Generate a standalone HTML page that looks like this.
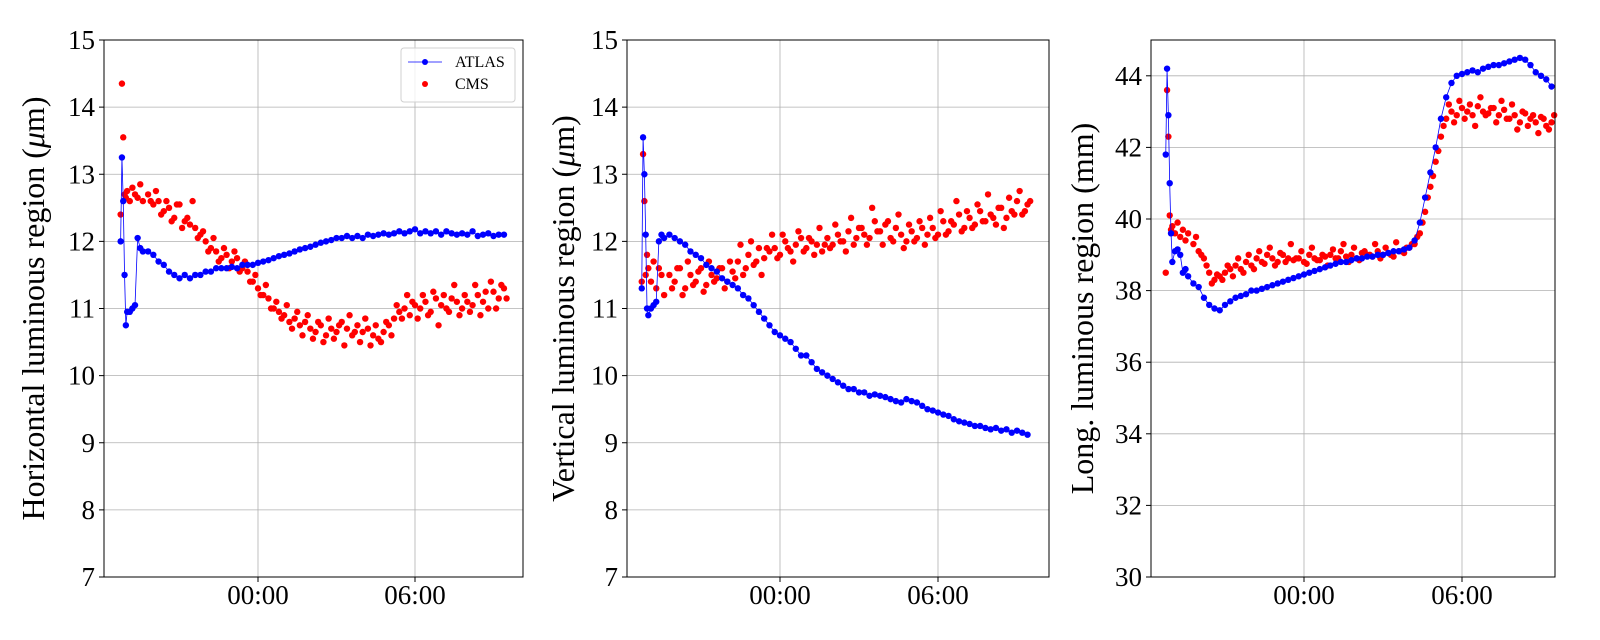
<!DOCTYPE html>
<html><head><meta charset="utf-8"><style>
body{margin:0;background:#fff}
svg{display:block;font-family:"Liberation Serif","DejaVu Serif",serif}
</style></head><body>
<svg id="chart" width="1600" height="640" viewBox="0 0 1600 640" xmlns="http://www.w3.org/2000/svg"></svg>
<script>
const times=[-5.25,-5.2,-5.15,-5.1,-5.05,-5.0,-4.9,-4.8,-4.7,-4.6,-4.5,-4.4,
-4.2,-4.0,-3.8,-3.6,-3.4,-3.2,-3.0,-2.8,-2.6,-2.4,
-2.2,-2.0,-1.8,-1.6,-1.4,-1.2,-1.0,-0.8,-0.6,-0.4,
-0.2,0,0.2,0.4,0.6,0.8,1.0,1.2,1.4,1.6,
1.8,2.0,2.2,2.4,2.6,2.8,3.0,3.2,3.4,3.6,
3.8,4.0,4.2,4.4,4.6,4.8,5.0,5.2,5.4,5.6,
5.8,6.0,6.2,6.4,6.6,6.8,7.0,7.2,7.4,7.6,
7.8,8.0,8.2,8.4,8.6,8.8,9.0,9.2,9.4];
const times2=[-4.1,-3.9,-3.7,-3.5,-3.3,-3.1,-2.9,-2.7,-2.5,-2.3,
-2.1,-1.9,-1.7,-1.5,-1.3,-1.1,-0.9,-0.7,-0.5,-0.3,
-0.1,0.1,0.3,0.5,0.7,0.9,1.1,1.3,1.5,1.7,
1.9,2.1,2.3,2.5,2.7,2.9,3.1,3.3,3.5,3.7,
3.9,4.1,4.3,4.5,4.7,4.9,5.1,5.3,5.5,5.7,
5.9,6.1,6.3,6.5,6.7,6.9,7.1,7.3,7.5,7.7,
7.9,8.1,8.3,8.5,8.7,8.9,9.1,9.3,9.5];
const xTickLabels=["00:00","06:00"];
const xTickHours=[0,6];
const hAtlas=[12.0,13.25,12.6,11.5,10.75,10.95,10.95,11.0,11.05,12.05,11.9,11.85,
11.85,11.8,11.7,11.65,11.55,11.5,11.45,11.5,11.45,11.5,
11.5,11.55,11.55,11.6,11.6,11.6,11.62,11.6,11.65,11.65,
11.65,11.68,11.7,11.72,11.75,11.78,11.8,11.82,11.85,11.88,
11.9,11.92,11.95,11.98,12.0,12.02,12.05,12.05,12.08,12.05,
12.08,12.05,12.1,12.08,12.1,12.12,12.1,12.12,12.15,12.12,
12.15,12.18,12.12,12.15,12.12,12.15,12.1,12.15,12.12,12.1,
12.12,12.1,12.15,12.08,12.1,12.12,12.08,12.1,12.1];
const hCms=[12.4,14.35,13.55,12.7,12.65,12.75,12.6,12.8,12.7,12.65,12.85,12.6,
12.7,12.55,12.6,12.45,12.5,12.35,12.55,12.3,12.25,12.2,
12.1,12.0,11.9,11.85,11.75,11.8,11.7,11.75,11.6,11.55,
11.4,11.3,11.2,11.15,11.0,10.95,10.9,10.8,10.85,10.75,
10.8,10.7,10.65,10.75,10.6,10.7,10.65,10.8,10.7,10.6,
10.75,10.65,10.7,10.6,10.55,10.65,10.75,10.85,10.95,11.0,
10.9,11.05,11.0,11.1,10.95,11.15,11.05,11.0,11.15,11.1,
11.0,11.1,11.05,11.2,11.1,11.0,11.25,11.15,11.3];
const hCms2=[12.6,12.75,12.4,12.6,12.3,12.55,12.2,12.35,12.6,12.05,
12.15,11.85,12.05,11.7,11.9,11.6,11.85,11.55,11.7,11.4,
11.5,11.2,11.35,11.0,11.1,10.85,11.05,10.7,10.95,10.6,
10.9,10.55,10.8,10.5,10.85,10.55,10.75,10.45,10.9,10.65,
10.5,10.85,10.45,10.75,10.5,10.8,10.6,11.05,10.85,11.2,
11.1,10.85,11.2,10.9,11.25,10.75,11.2,10.95,11.35,10.9,
11.2,10.95,11.35,10.9,11.25,11.4,11.0,11.35,11.15];
const vAtlas=[11.3,13.55,13.0,12.1,11.0,10.9,11.0,11.05,11.1,12.0,12.1,12.05,
12.1,12.05,12.0,11.95,11.85,11.8,11.75,11.65,11.6,11.55,
11.45,11.4,11.35,11.3,11.2,11.15,11.05,10.95,10.85,10.75,
10.65,10.6,10.55,10.5,10.4,10.3,10.3,10.2,10.1,10.05,
10.0,9.95,9.9,9.85,9.8,9.8,9.75,9.75,9.7,9.72,
9.7,9.68,9.65,9.62,9.6,9.65,9.62,9.6,9.55,9.5,
9.48,9.45,9.42,9.4,9.35,9.32,9.3,9.28,9.25,9.25,
9.22,9.2,9.22,9.18,9.2,9.15,9.18,9.15,9.12];
const vCms=[11.4,13.3,12.6,11.5,11.8,11.6,11.4,11.7,11.3,11.6,11.5,11.2,
11.5,11.4,11.6,11.3,11.5,11.4,11.6,11.35,11.5,11.45,
11.6,11.4,11.55,11.7,11.5,11.8,11.65,11.9,11.75,11.85,
11.9,11.8,12.0,11.85,11.95,12.05,11.9,12.0,11.95,11.85,
12.05,11.95,12.1,12.0,12.15,11.95,12.2,12.1,12.05,12.3,
12.15,12.25,12.05,12.2,12.1,12.0,12.15,12.05,12.2,12.1,
12.2,12.1,12.3,12.15,12.25,12.4,12.2,12.35,12.25,12.45,
12.3,12.4,12.25,12.5,12.35,12.45,12.6,12.4,12.55];
const vCms2=[11.3,11.6,11.2,11.7,11.35,11.55,11.25,11.7,11.4,11.6,
11.3,11.7,11.45,11.95,11.6,12.0,11.7,11.5,11.9,12.1,
11.75,12.1,11.9,11.7,12.15,11.85,12.05,11.8,12.2,11.95,
11.9,12.25,12.0,11.85,12.35,12.05,12.2,11.95,12.5,12.15,
11.95,12.3,12.0,12.4,11.9,12.25,12.0,12.3,11.95,12.35,
12.05,12.45,12.1,12.3,12.6,12.15,12.45,12.2,12.55,12.3,
12.7,12.35,12.5,12.2,12.65,12.4,12.75,12.45,12.6];
const lAtlas=[41.8,44.2,42.9,41.0,39.6,38.8,39.1,39.15,39.0,38.5,38.6,38.4,
38.2,38.1,37.8,37.6,37.5,37.45,37.6,37.7,37.8,37.85,
37.9,38.0,38.0,38.05,38.1,38.15,38.2,38.25,38.3,38.35,
38.4,38.45,38.5,38.55,38.6,38.65,38.7,38.75,38.8,38.8,
38.85,38.9,38.9,38.95,38.95,39.0,39.0,39.05,39.1,39.1,
39.15,39.2,39.4,39.9,40.6,41.3,42.0,42.8,43.4,43.8,
44.0,44.05,44.1,44.15,44.1,44.2,44.25,44.3,44.3,44.35,
44.4,44.45,44.5,44.45,44.3,44.1,44.0,43.9,43.7];
const lCms=[38.5,43.6,42.3,40.1,39.7,39.8,39.6,39.9,39.5,39.7,39.4,39.6,
39.3,39.1,38.9,38.5,38.3,38.4,38.5,38.6,38.7,38.6,
38.8,38.7,38.9,38.8,39.0,38.9,38.8,39.0,38.9,38.85,
38.9,38.8,39.0,38.9,38.85,38.95,39.0,38.9,39.1,38.95,
39.0,38.9,39.05,39.0,38.95,39.1,39.0,39.05,38.95,39.1,
39.05,39.2,39.3,39.6,40.2,40.9,41.6,42.3,42.8,43.0,
42.9,43.1,43.0,42.9,43.15,43.0,42.95,43.1,42.9,43.05,
42.8,42.9,42.7,42.95,42.8,42.7,42.85,42.6,42.7];
const lCms2=[39.5,39.0,38.7,38.2,38.45,38.3,38.7,38.4,38.9,38.5,
39.0,38.6,39.1,38.75,39.2,38.7,39.05,38.8,39.3,38.9,
39.1,38.75,39.2,38.85,39.0,38.7,39.15,38.9,39.3,38.8,
39.2,38.85,39.1,39.0,39.3,38.9,39.2,39.0,39.35,39.1,
39.2,39.3,39.5,39.9,40.6,41.2,41.9,42.6,43.2,42.7,
43.3,42.8,43.2,42.6,43.4,42.9,43.1,42.7,43.3,42.8,
43.2,42.5,43.0,42.6,42.9,42.4,42.8,42.5,42.9];
const yTicksA=[7,8,9,10,11,12,13,14,15];
const yTicksL=[30,32,34,36,38,40,42,44];

const NS="http://www.w3.org/2000/svg";
const svg=document.getElementById('chart');
function mk(tag,attrs,parent){const e=document.createElementNS(NS,tag);for(const k in attrs)e.setAttribute(k,attrs[k]);(parent||svg).appendChild(e);return e;}

const panels=[
 {name:'horizontal',x0:104,x1:523,zero:258,six:415,ymin:7,ymax:15,ticks:yTicksA,title:'Horizontal luminous region (',unit:true,tx:44,a:hAtlas,c:hCms,c2:hCms2,legend:true},
 {name:'vertical',x0:627,x1:1049,zero:780,six:938,ymin:7,ymax:15,ticks:yTicksA,title:'Vertical luminous region (',unit:true,tx:574,a:vAtlas,c:vCms,c2:vCms2},
 {name:'longitudinal',x0:1151,x1:1555,zero:1304,six:1462,ymin:30,ymax:45,ticks:yTicksL,title:'Long. luminous region (mm)',unit:false,tx:1093,a:lAtlas,c:lCms,c2:lCms2}
];
const plotTop=40,plotBot=577;
panels.forEach(p=>{
  const g=mk('g',{});
  
  
  const xs=h=>p.zero+(h)*(p.six-p.zero)/6;
  const ys=v=>plotBot-(v-p.ymin)/(p.ymax-p.ymin)*(plotBot-plotTop);
  p.ticks.forEach(t=>{
    const y=ys(t);
    const l=mk('line',{x1:p.x0,x2:p.x1,y1:y,y2:y,stroke:'#b0b0b0','stroke-width':0.8},g);
    
    
    mk('line',{x1:p.x0-5,x2:p.x0,y1:y,y2:y,stroke:'#000','stroke-width':1},g);
    const tx=mk('text',{x:p.x0-9,y:y+9,'text-anchor':'end','font-size':27},g);
    tx.textContent=t;
    
    
  });
  xTickHours.forEach((h,i)=>{
    const x=xs(h);
    const l=mk('line',{x1:x,x2:x,y1:plotTop,y2:plotBot,stroke:'#b0b0b0','stroke-width':0.8},g);
    
    
    mk('line',{x1:x,x2:x,y1:plotBot,y2:plotBot+5,stroke:'#000','stroke-width':1},g);
    const tx=mk('text',{x:x,y:plotBot+27,'text-anchor':'middle','font-size':27},g);
    tx.textContent=xTickLabels[i];
    
    
  });
  const cg=mk('g',{fill:'#ff0000'},g);
  
  
  p.c.forEach((v,i)=>{
    const c=mk('circle',{cx:xs(times[i]),cy:ys(v),r:3.2},cg);
    
    
  });
  p.c2.forEach((v,i)=>{
    const c=mk('circle',{cx:xs(times2[i]),cy:ys(v),r:3.2},cg);
    
    
  });
  const ag=mk('g',{fill:'#0000ff'},g);
  
  
  const pl=mk('polyline',{points:p.a.map((v,i)=>xs(times[i])+','+ys(v)).join(' '),fill:'none',stroke:'#0000ff','stroke-width':0.8},ag);
  
  
  p.a.forEach((v,i)=>{
    const c=mk('circle',{cx:xs(times[i]),cy:ys(v),r:3.2},ag);
    
    
  });
  const fr=mk('rect',{x:p.x0,y:plotTop,width:p.x1-p.x0,height:plotBot-plotTop,fill:'none',stroke:'#000','stroke-width':1},g);
  
  
  const yt=mk('text',{x:0,y:0,'text-anchor':'middle','font-size':32,transform:`translate(${p.tx},${(plotTop+plotBot)/2}) rotate(-90)`},g);
  
  
  if(p.unit){
    yt.appendChild(document.createTextNode(p.title));
    const ts=mk('tspan',{'font-style':'italic'},yt);ts.textContent='μ';
    yt.appendChild(document.createTextNode('m)'));
  } else yt.textContent=p.title;
  if(p.legend){
    const lg=mk('g',{},g);
    
    
    mk('rect',{x:401,y:48,width:114,height:54,rx:3,fill:'#fff','fill-opacity':0.8,stroke:'#d0d0d0'},lg);
    mk('line',{x1:408,x2:442,y1:62,y2:62,stroke:'#0000ff','stroke-width':0.8},lg);
    mk('circle',{cx:425,cy:62,r:3,fill:'#0000ff'},lg);
    mk('circle',{cx:425,cy:84,r:3,fill:'#ff0000'},lg);
    const t1=mk('text',{x:455,y:67,'font-size':16},lg);t1.textContent='ATLAS';
    
    
    const t2=mk('text',{x:455,y:89,'font-size':16},lg);t2.textContent='CMS';
    
    
  }
});
</script>
</body></html>
